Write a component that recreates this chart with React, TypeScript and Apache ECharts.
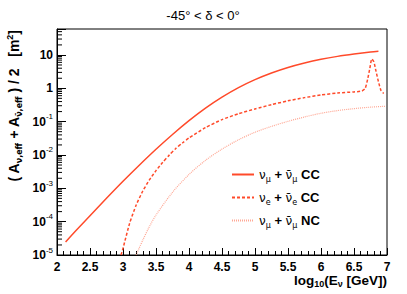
import React, { useEffect, useRef } from "react";
import * as echarts from "echarts";

// nu_mu + anti-nu_mu CC
const MU_CC_X = [2.13, 2.25, 2.5, 2.75, 3.0, 3.25, 3.5, 3.75, 4.0, 4.25, 4.5, 4.75, 5.0, 5.25, 5.5, 5.75, 6.0, 6.25, 6.5, 6.75, 6.87];
const MU_CC_Y = [2.45e-5, 4.5e-5, 1.5e-4, 5.0e-4, 1.62e-3, 5.0e-3, 0.0148, 0.0412, 0.107, 0.254, 0.543, 1.05, 1.82, 2.88, 4.22, 5.75, 7.41, 9.06, 10.64, 12.2, 12.9];
// nu_e + anti-nu_e CC
const E_CC_X = [2.97, 3.0, 3.1, 3.2, 3.3, 3.4, 3.5, 3.6, 3.7, 3.8, 3.9, 4.0, 4.25, 4.5, 4.75, 5.0, 5.25, 5.5, 5.75, 6.0, 6.25, 6.5, 6.62, 6.67, 6.71, 6.74, 6.77, 6.8, 6.83, 6.87, 6.91, 6.95];
const E_CC_Y = [1.0e-5, 1.58e-5, 8.9e-5, 3.16e-4, 8.3e-4, 1.78e-3, 3.39e-3, 5.96e-3, 9.9e-3, 0.0157, 0.0229, 0.0324, 0.066, 0.115, 0.172, 0.24, 0.324, 0.42, 0.525, 0.63, 0.72, 0.78, 0.83, 1.0, 2.0, 4.0, 7.6, 6.3, 3.5, 1.6, 0.85, 0.7];
// nu_mu + anti-nu_mu NC
const MU_NC_X = [3.2, 3.3, 3.4, 3.5, 3.75, 4.0, 4.25, 4.5, 4.75, 5.0, 5.25, 5.5, 5.75, 6.0, 6.25, 6.5, 6.75, 6.97];
const MU_NC_Y = [1.0e-5, 2.8e-5, 7.1e-5, 1.58e-4, 7.6e-4, 2.6e-3, 6.9e-3, 0.015, 0.0285, 0.048, 0.072, 0.102, 0.138, 0.178, 0.214, 0.245, 0.272, 0.288];

const X_MIN = 2;
const X_MAX = 7;
const Y_MIN = 1e-5;
const Y_MAX = 60;

const TITLE = "-45° < δ < 0°";
const NU = "ν";
const NUBAR = "ν\u0304";

const pair = (xs: number[], ys: number[]) => xs.map((x, i) => [x, ys[i]]);

const FONT = "Liberation Sans";
const RED = "#ff4a2a";
const PALE = "#ffa794";

export default function App() {
  const ref = useRef<HTMLDivElement>(null);
  useEffect(() => {
    if (!ref.current) return;
    const chart = echarts.init(ref.current, undefined, { renderer: "svg" });
    const legendText: Record<string, string> = {
      muCC: `{n|${NU}}{s|μ}{p| + }{n|${NUBAR}}{s|μ}{b| CC}`,
      eCC: `{n|${NU}}{s|e}{p| + }{n|${NUBAR}}{s|e}{b| CC}`,
      muNC: `{n|${NU}}{s|μ}{p| + }{n|${NUBAR}}{s|μ}{b| NC}`,
    };
    const option: any = {
      animation: false,
      backgroundColor: "#fff",
      grid: {
        left: 57,
        right: 20,
        top: 29,
        bottom: 39,
        show: true,
        borderColor: "#000",
        borderWidth: 1,
        outerBoundsMode: "none",
        containLabel: false,
      },
      xAxis: {
        type: "value",
        min: X_MIN,
        max: X_MAX,
        interval: 0.5,
        axisLine: { show: true, lineStyle: { color: "#000", width: 1 } },
        axisTick: { show: true, inside: true, length: 7, lineStyle: { color: "#000" } },
        minorTick: { show: true, splitNumber: 5, length: 4, lineStyle: { color: "#000" } },
        splitLine: { show: false },
        axisLabel: {
          show: true,
          margin: 6,
          color: "#000",
          fontFamily: FONT,
          fontWeight: "bold",
          fontSize: 12,
          showMinLabel: true,
          showMaxLabel: true,
          formatter: (v: number) => String(Math.round(v * 10) / 10),
        },
      },
      yAxis: {
        type: "log",
        logBase: 10,
        min: Y_MIN,
        max: Y_MAX,
        axisLine: { show: true, lineStyle: { color: "#000", width: 1 } },
        axisTick: { show: true, inside: true, length: 9, lineStyle: { color: "#000" } },
        splitLine: { show: false },
        axisLabel: {
          show: true,
          margin: 4,
          color: "#000",
          fontFamily: FONT,
          fontWeight: "bold",
          fontSize: 12,
          formatter: (v: number) => {
            const l = Math.log10(v);
            const r = Math.round(l);
            if (Math.abs(l - r) > 1e-6) return "";
            if (r === 0) return "{b|1}";
            if (r === 1) return "{b|10}";
            return `{b|10}{sup|${r}}`;
          },
          rich: {
            b: { fontFamily: FONT, fontWeight: "bold", fontSize: 12, color: "#000" },
            sup: { fontFamily: FONT, fontWeight: "normal", fontSize: 8, color: "#000", padding: [0, 0, 10, 0] },
          },
        },
      },
      legend: {
        orient: "vertical",
        left: 226,
        top: 163,
        itemWidth: 22,
        itemHeight: 14,
        itemGap: 8,
        itemStyle: { opacity: 0 },
        data: ["muCC", "eCC", "muNC"],
        formatter: (name: string) => legendText[name],
        textStyle: {
          color: "#000",
          fontFamily: FONT,
          fontSize: 13,
          rich: {
            n: { fontFamily: "DejaVu Sans", fontSize: 12, color: "#000" },
            s: { fontFamily: "DejaVu Sans", fontSize: 8, color: "#000", padding: [9, 0, 0, 0] },
            p: { fontFamily: FONT, fontWeight: "bold", fontSize: 13, color: "#000" },
            b: { fontFamily: FONT, fontWeight: "bold", fontSize: 13, color: "#000" },
          },
        },
      },
      series: [
        {
          name: "muCC",
          type: "line",
          data: pair(MU_CC_X, MU_CC_Y),
          symbol: "none",
          smooth: 0.3,
          clip: true,
          lineStyle: { color: RED, width: 1.5, type: "solid" },
          itemStyle: { color: RED },
        },
        {
          name: "eCC",
          type: "line",
          data: pair(E_CC_X, E_CC_Y),
          symbol: "none",
          smooth: 0.2,
          clip: true,
          lineStyle: { color: RED, width: 1.5, type: [3, 2] },
          itemStyle: { color: RED },
        },
        {
          name: "muNC",
          type: "line",
          data: pair(MU_NC_X, MU_NC_Y),
          symbol: "none",
          smooth: 0.3,
          clip: true,
          lineStyle: { color: PALE, width: 1.2, type: [1, 1] },
          itemStyle: { color: PALE },
        },
      ],
    };
    chart.setOption(option);

    const x0 = chart.convertToPixel({ xAxisIndex: 0 }, X_MIN) as number;
    const graphics: any[] = [];
    for (let e = -5; e <= 1; e++) {
      for (let k = 2; k <= 9; k++) {
        const v = k * Math.pow(10, e);
        if (v >= Y_MAX) continue;
        const py = chart.convertToPixel({ yAxisIndex: 0 }, v) as number;
        graphics.push({
          type: "line",
          silent: true,
          shape: { x1: x0, y1: py, x2: x0 + 5, y2: py },
          style: { stroke: "#000", lineWidth: 1 },
        });
      }
    }
    graphics.push({
      type: "text",
      x: 203,
      y: 15,
      style: { text: TITLE, fontFamily: FONT, fontSize: 13, fill: "#000", align: "center", verticalAlign: "middle" },
    });
    graphics.push({
      type: "text",
      x: 14,
      y: 30,
      rotation: Math.PI / 2,
      style: {
        text: `{b|( A}{s|${NU},eff}{b| + A}{s|${NUBAR},eff}{b| ) / 2   [m}{sup|2}{b|]}`,
        align: "right",
        verticalAlign: "middle",
        rich: {
          b: { fontFamily: FONT, fontWeight: "bold", fontSize: 14, fill: "#000" },
          s: { fontFamily: "DejaVu Sans", fontWeight: "bold", fontSize: 8, fill: "#000", padding: [10, 0, 0, 0] },
          sup: { fontFamily: FONT, fontWeight: "bold", fontSize: 9, fill: "#000", padding: [0, 0, 9, 0] },
        },
      },
    });
    graphics.push({
      type: "text",
      x: 387,
      y: 280,
      style: {
        text: `{b|log}{s|10}{b|(E}{s|${NU}}{b| [GeV])}`,
        align: "right",
        verticalAlign: "middle",
        rich: {
          b: { fontFamily: FONT, fontWeight: "bold", fontSize: 13.5, fill: "#000" },
          s: { fontFamily: FONT, fontWeight: "bold", fontSize: 9, fill: "#000", padding: [8, 0, 0, 0] },
        },
      },
    });
    chart.setOption({ graphic: graphics });

    return () => chart.dispose();
  }, []);
  return (
    <div
      ref={ref}
      style={{ position: "fixed", left: 0, top: 0, width: 407, height: 294, background: "#fff" }}
    />
  );
}
